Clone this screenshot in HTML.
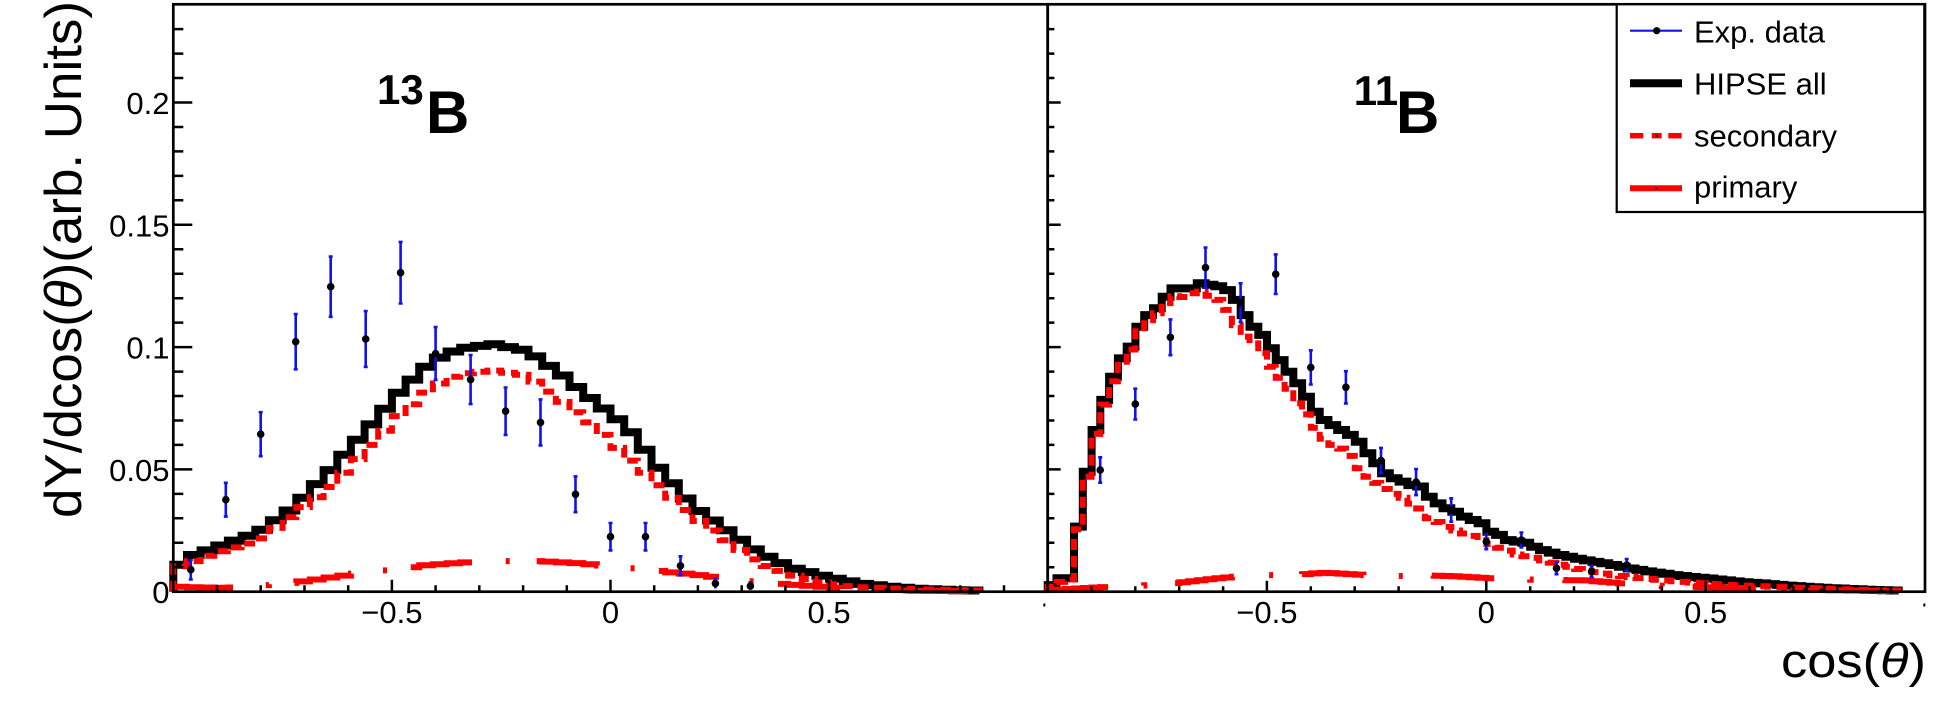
<!DOCTYPE html>
<html><head><meta charset="utf-8"><style>
html,body{margin:0;padding:0;background:#fff;}
svg{display:block;font-family:"Liberation Sans",Arial,sans-serif;}
</style></head><body>
<svg width="1936" height="706" viewBox="0 0 1936 706" xmlns="http://www.w3.org/2000/svg">
<rect x="0" y="0" width="1936" height="706" fill="#fff"/>

<!-- ===== LEFT PANEL HISTOGRAMS ===== -->
<path fill="none" stroke="#000" stroke-width="8" stroke-linejoin="miter" d="M173.3,591.7 V564.8 H187.0 V555.0 H200.6 V550.4 H214.3 V545.5 H227.9 V540.6 H241.6 V535.7 H255.3 V529.8 H268.9 V520.3 H282.6 V510.5 H296.3 V497.8 H309.9 V484.1 H323.6 V470.1 H337.3 V454.7 H350.9 V439.8 H364.6 V424.4 H378.2 V408.7 H391.9 V392.8 H405.6 V379.6 H419.2 V366.7 H432.9 V357.6 H446.6 V351.5 H460.2 V347.8 H473.9 V345.9 H487.5 V344.2 H501.2 V347.1 H514.9 V349.8 H528.5 V356.4 H542.2 V365.9 H555.9 V375.5 H569.5 V387.0 H583.2 V398.0 H596.8 V408.5 H610.5 V419.3 H624.2 V432.2 H637.8 V449.8 H651.5 V467.7 H665.2 V483.3 H678.8 V498.5 H692.5 V511.0 H706.1 V520.5 H719.8 V530.3 H733.5 V539.8 H747.1 V549.4 H760.8 V556.7 H774.5 V563.1 H788.1 V568.7 H801.8 V572.1 H815.4 V575.8 H829.1 V578.7 H842.8 V581.4 H856.4 V583.9 H870.1 V585.3 H883.8 V586.8 H897.4 V587.8 H911.1 V588.8 H924.7 V589.3 H938.4 V589.7 H952.1 V590.2 H965.7 V590.5 H979.4 V591.7"/>
<path fill="none" stroke="#ff0000" stroke-width="6" stroke-dasharray="11 6" d="M173.3,591.7 V566.3 H187.0 V561.1 H200.6 V555.7 H214.3 V551.3 H227.9 V547.4 H241.6 V543.5 H255.3 V538.4 H268.9 V527.9 H282.6 V517.1 H296.3 V507.1 H309.9 V497.3 H323.6 V487.0 H337.3 V472.8 H350.9 V459.1 H364.6 V444.9 H378.2 V430.7 H391.9 V416.1 H405.6 V404.3 H419.2 V392.6 H432.9 V383.5 H446.6 V376.7 H460.2 V373.3 H473.9 V371.8 H487.5 V370.6 H501.2 V372.8 H514.9 V374.7 H528.5 V381.6 H542.2 V391.6 H555.9 V401.9 H569.5 V412.2 H583.2 V422.4 H596.8 V434.9 H610.5 V447.9 H624.2 V460.6 H637.8 V472.8 H651.5 V485.3 H665.2 V497.8 H678.8 V510.0 H692.5 V521.0 H706.1 V530.5 H719.8 V540.3 H733.5 V549.9 H747.1 V559.4 H760.8 V566.0 H774.5 V570.9 H788.1 V575.6 H801.8 V579.0 H815.4 V582.4 H829.1 V584.4 H842.8 V586.1 H856.4 V587.3 H870.1 V587.8 H883.8 V588.5 H897.4 V588.8 H911.1 V589.3 H924.7 V589.5 H938.4 V589.7 H952.1 V590.2 H965.7 V590.5 H979.4 V591.7"/>
<path fill="none" stroke="#ff0000" stroke-width="6" stroke-dasharray="66 35 4 27" d="M173.3,591.7 V586.8 H187.0 V587.3 H200.6 V587.5 H214.3 V587.8 H227.9 V587.5 H241.6 V586.3 H255.3 V585.1 H268.9 V584.1 H282.6 V582.9 H296.3 V581.4 H309.9 V579.5 H323.6 V577.5 H337.3 V575.6 H350.9 V573.6 H364.6 V571.9 H378.2 V570.4 H391.9 V568.5 H405.6 V567.2 H419.2 V565.3 H432.9 V564.3 H446.6 V563.3 H460.2 V562.4 H473.9 V561.9 H487.5 V561.4 H501.2 V561.1 H514.9 V561.1 H528.5 V561.1 H542.2 V561.6 H555.9 V562.4 H569.5 V563.1 H583.2 V564.3 H596.8 V565.5 H610.5 V566.8 H624.2 V568.2 H637.8 V569.7 H651.5 V570.9 H665.2 V572.4 H678.8 V573.6 H692.5 V575.1 H706.1 V576.8 H719.8 V578.2 H733.5 V579.7 H747.1 V581.2 H760.8 V582.6 H774.5 V583.9 H788.1 V584.9 H801.8 V585.8 H815.4 V586.8 H829.1 V587.8 H842.8 V588.5 H856.4 V589.3 H870.1 V589.7 H883.8 V590.0 H897.4 V590.5 H911.1 V590.7 H924.7 V590.9 H938.4 V590.9 H952.1 V591.2 H965.7 V591.2 H979.4"/>

<!-- ===== RIGHT PANEL HISTOGRAMS ===== -->
<path fill="none" stroke="#000" stroke-width="8" d="M1047.7,591.7 V585.1 H1056.5 V578.2 H1065.2 V578.2 H1074.0 V526.6 H1082.8 V471.8 H1091.6 V430.0 H1100.3 V399.9 H1109.1 V376.7 H1117.9 V358.4 H1126.7 V346.6 H1135.4 V326.8 H1144.2 V315.1 H1153.0 V308.2 H1161.7 V296.7 H1170.5 V288.4 H1179.3 V288.4 H1188.1 V288.4 H1196.8 V283.3 H1205.6 V284.7 H1214.4 V286.2 H1223.2 V290.1 H1231.9 V299.9 H1240.7 V315.1 H1249.5 V326.8 H1258.3 V334.9 H1267.0 V348.3 H1275.8 V360.1 H1284.6 V371.8 H1293.3 V383.3 H1302.1 V396.8 H1310.9 V411.7 H1319.7 V420.0 H1328.4 V425.1 H1337.2 V430.0 H1346.0 V434.9 H1354.8 V441.8 H1363.5 V453.3 H1372.3 V463.3 H1381.1 V473.3 H1389.8 V478.2 H1398.6 V481.6 H1407.4 V485.1 H1416.2 V486.5 H1424.9 V496.8 H1433.7 V503.4 H1442.5 V508.3 H1451.3 V511.7 H1460.0 V516.6 H1468.8 V520.0 H1477.6 V523.2 H1486.4 V531.8 H1495.1 V534.9 H1503.9 V540.1 H1512.7 V541.6 H1521.4 V542.8 H1530.2 V546.7 H1539.0 V550.1 H1547.8 V552.6 H1556.5 V555.0 H1565.3 V556.7 H1574.1 V558.7 H1582.9 V560.4 H1591.6 V561.9 H1600.4 V563.3 H1609.2 V565.0 H1617.9 V566.8 H1626.7 V568.5 H1635.5 V569.9 H1644.3 V571.4 H1653.0 V572.6 H1661.8 V573.8 H1670.6 V575.1 H1679.4 V576.0 H1688.1 V577.0 H1696.9 V577.8 H1705.7 V578.5 H1714.4 V579.5 H1723.2 V580.4 H1732.0 V581.4 H1740.8 V582.2 H1749.5 V582.9 H1758.3 V583.4 H1767.1 V584.1 H1775.9 V584.9 H1784.6 V585.6 H1793.4 V586.1 H1802.2 V586.8 H1810.9 V587.3 H1819.7 V587.8 H1828.5 V588.3 H1837.3 V588.5 H1846.0 V589.0 H1854.8 V589.3 H1863.6 V589.7 H1872.4 V590.0 H1881.1 V590.2 H1889.9 V590.5 H1898.7 V591.7"/>
<path fill="none" stroke="#ff0000" stroke-width="6" stroke-dasharray="11 6" d="M1047.7,591.7 V586.8 H1056.5 V581.9 H1065.2 V579.5 H1074.0 V529.3 H1082.8 V476.7 H1091.6 V433.9 H1100.3 V404.6 H1109.1 V381.3 H1117.9 V361.8 H1126.7 V349.5 H1135.4 V331.2 H1144.2 V320.2 H1153.0 V313.3 H1161.7 V303.1 H1170.5 V296.2 H1179.3 V297.0 H1188.1 V293.3 H1196.8 V291.6 H1205.6 V295.7 H1214.4 V299.9 H1223.2 V309.9 H1231.9 V325.1 H1240.7 V336.6 H1249.5 V343.4 H1258.3 V353.2 H1267.0 V366.7 H1275.8 V377.7 H1284.6 V388.7 H1293.3 V403.4 H1302.1 V414.4 H1310.9 V427.8 H1319.7 V438.8 H1328.4 V444.9 H1337.2 V448.6 H1346.0 V455.9 H1354.8 V468.2 H1363.5 V476.7 H1372.3 V482.9 H1381.1 V489.0 H1389.8 V493.9 H1398.6 V497.8 H1407.4 V503.6 H1416.2 V508.5 H1424.9 V518.3 H1433.7 V522.0 H1442.5 V526.9 H1451.3 V530.5 H1460.0 V533.5 H1468.8 V535.9 H1477.6 V540.3 H1486.4 V544.0 H1495.1 V547.7 H1503.9 V550.6 H1512.7 V554.5 H1521.4 V556.2 H1530.2 V557.9 H1539.0 V560.4 H1547.8 V562.6 H1556.5 V564.8 H1565.3 V566.8 H1574.1 V569.0 H1582.9 V570.7 H1591.6 V572.1 H1600.4 V573.6 H1609.2 V575.1 H1617.9 V576.0 H1626.7 V577.0 H1635.5 V578.0 H1644.3 V579.0 H1653.0 V579.7 H1661.8 V580.4 H1670.6 V581.2 H1679.4 V581.9 H1688.1 V582.6 H1696.9 V583.1 H1705.7 V583.9 H1714.4 V584.4 H1723.2 V584.9 H1732.0 V585.3 H1740.8 V585.6 H1749.5 V586.1 H1758.3 V586.3 H1767.1 V586.8 H1775.9 V587.1 H1784.6 V587.5 H1793.4 V587.8 H1802.2 V588.0 H1810.9 V588.3 H1819.7 V588.5 H1828.5 V589.0 H1837.3 V589.3 H1846.0 V589.5 H1854.8 V589.7 H1863.6 V590.0 H1872.4 V590.2 H1881.1 V590.2 H1889.9 V590.5 H1898.7 V591.7"/>
<path fill="none" stroke="#ff0000" stroke-width="6" stroke-dasharray="65 37 4 30" d="M1047.7,591.7 V590.0 H1056.5 V589.5 H1065.2 V589.0 H1074.0 V588.5 H1082.8 V588.0 H1091.6 V587.5 H1100.3 V587.1 H1109.1 V586.6 H1117.9 V586.3 H1126.7 V585.8 H1135.4 V585.6 H1144.2 V585.3 H1153.0 V584.9 H1161.7 V584.1 H1170.5 V583.1 H1179.3 V582.2 H1188.1 V581.2 H1196.8 V580.2 H1205.6 V579.2 H1214.4 V578.2 H1223.2 V577.5 H1231.9 V576.8 H1240.7 V576.3 H1249.5 V575.8 H1258.3 V575.3 H1267.0 V575.1 H1275.8 V574.8 H1284.6 V574.6 H1293.3 V574.3 H1302.1 V574.1 H1310.9 V573.4 H1319.7 V572.9 H1328.4 V573.1 H1337.2 V573.6 H1346.0 V574.1 H1354.8 V574.6 H1363.5 V575.1 H1372.3 V575.8 H1381.1 V576.5 H1389.8 V576.5 H1398.6 V576.0 H1407.4 V575.6 H1416.2 V575.3 H1424.9 V575.6 H1433.7 V575.8 H1442.5 V576.0 H1451.3 V576.3 H1460.0 V576.8 H1468.8 V577.3 H1477.6 V577.8 H1486.4 V578.2 H1495.1 V578.5 H1503.9 V579.0 H1512.7 V579.2 H1521.4 V579.5 H1530.2 V579.7 H1539.0 V580.0 H1547.8 V580.0 H1556.5 V580.0 H1565.3 V580.2 H1574.1 V580.2 H1582.9 V580.4 H1591.6 V581.2 H1600.4 V581.9 H1609.2 V582.6 H1617.9 V583.4 H1626.7 V584.1 H1635.5 V584.6 H1644.3 V585.1 H1653.0 V585.6 H1661.8 V586.1 H1670.6 V586.3 H1679.4 V586.6 H1688.1 V586.8 H1696.9 V587.1 H1705.7 V587.3 H1714.4 V587.5 H1723.2 V587.8 H1732.0 V588.0 H1740.8 V588.3 H1749.5 V588.5 H1758.3 V588.8 H1767.1 V589.0 H1775.9 V589.3 H1784.6 V589.5 H1793.4 V589.5 H1802.2 V589.7 H1810.9 V590.0 H1819.7 V590.0 H1828.5 V590.2 H1837.3 V590.2 H1846.0 V590.5 H1854.8 V590.5 H1863.6 V590.7 H1872.4 V590.7 H1881.1 V591.0 H1889.9 V591.0 H1898.7"/>

<!-- ===== DATA POINTS LEFT ===== -->
<g stroke="#1010f0" stroke-width="2.6" fill="none">
<path d="M190.8,559.9V579.5M188.8,559.9H192.8M188.8,579.5H192.8"/>
<path d="M225.8,482.8V516.6M223.8,482.8H227.8M223.8,516.6H227.8"/>
<path d="M260.7,412.2V456.2M258.7,412.2H262.7M258.7,456.2H262.7"/>
<path d="M295.7,314.1V369.3M293.7,314.1H297.7M293.7,369.3H297.7"/>
<path d="M330.7,256.6V316.8M328.7,256.6H332.7M328.7,316.8H332.7"/>
<path d="M365.7,311.1V366.9M363.7,311.1H367.7M363.7,366.9H367.7"/>
<path d="M400.6,241.9V303.5M398.6,241.9H402.6M398.6,303.5H402.6"/>
<path d="M435.6,327.1V379.9M433.6,327.1H437.6M433.6,379.9H437.6"/>
<path d="M470.6,355.1V404.1M468.6,355.1H472.6M468.6,404.1H472.6"/>
<path d="M505.6,387.5V434.9M503.6,387.5H507.6M503.6,434.9H507.6"/>
<path d="M540.5,399.4V445.4M538.5,399.4H542.5M538.5,445.4H542.5"/>
<path d="M575.5,476.4V512.2M573.5,476.4H577.5M573.5,512.2H577.5"/>
<path d="M610.5,523.0V550.4M608.5,523.0H612.5M608.5,550.4H612.5"/>
<path d="M645.5,523.0V550.4M643.5,523.0H647.5M643.5,550.4H647.5"/>
<path d="M680.5,556.3V575.3M678.5,556.3H682.5M678.5,575.3H682.5"/>
<path d="M715.4,578.4V588.4M713.4,578.4H717.4"/>
<path d="M750.4,582.4V589.8M748.4,582.4H752.4"/>
</g>
<g fill="#000">
<circle cx="190.8" cy="569.7" r="3.8"/><circle cx="225.8" cy="499.7" r="3.8"/><circle cx="260.7" cy="434.2" r="3.8"/><circle cx="295.7" cy="341.7" r="3.8"/><circle cx="330.7" cy="286.7" r="3.8"/><circle cx="365.7" cy="339.0" r="3.8"/><circle cx="400.6" cy="272.7" r="3.8"/><circle cx="435.6" cy="353.5" r="3.8"/><circle cx="470.6" cy="379.6" r="3.8"/><circle cx="505.6" cy="411.2" r="3.8"/><circle cx="540.5" cy="422.4" r="3.8"/><circle cx="575.5" cy="494.3" r="3.8"/><circle cx="610.5" cy="536.7" r="3.8"/><circle cx="645.5" cy="536.7" r="3.8"/><circle cx="680.5" cy="565.8" r="3.8"/><circle cx="715.4" cy="583.4" r="3.8"/><circle cx="750.4" cy="586.1" r="3.8"/>
</g>

<!-- ===== DATA POINTS RIGHT ===== -->
<g stroke="#1010f0" stroke-width="2.6" fill="none">
<path d="M1100.2,457.3V482.7M1098.2,457.3H1102.2M1098.2,482.7H1102.2"/>
<path d="M1135.3,388.7V419.5M1133.3,388.7H1137.3M1133.3,419.5H1137.3"/>
<path d="M1170.4,319.4V355.2M1168.4,319.4H1172.4M1168.4,355.2H1172.4"/>
<path d="M1205.5,247.5V287.7M1203.5,247.5H1207.5M1203.5,287.7H1207.5"/>
<path d="M1240.6,283.3V321.9M1238.6,283.3H1242.6M1238.6,321.9H1242.6"/>
<path d="M1275.7,254.4V294.0M1273.7,254.4H1277.7M1273.7,294.0H1277.7"/>
<path d="M1310.8,350.3V384.5M1308.8,350.3H1312.8M1308.8,384.5H1312.8"/>
<path d="M1345.9,371.2V403.4M1343.9,371.2H1347.9M1343.9,403.4H1347.9"/>
<path d="M1381.0,447.9V473.3M1379.0,447.9H1383.0M1379.0,473.3H1383.0"/>
<path d="M1416.1,469.1V495.1M1414.1,469.1H1418.1M1414.1,495.1H1418.1"/>
<path d="M1451.2,498.3V521.7M1449.2,498.3H1453.2M1449.2,521.7H1453.2"/>
<path d="M1486.3,534.2V549.2M1484.3,534.2H1488.3M1484.3,549.2H1488.3"/>
<path d="M1521.4,532.5V547.5M1519.4,532.5H1523.4M1519.4,547.5H1523.4"/>
<path d="M1556.5,562.2V574.2M1554.5,562.2H1558.5M1554.5,574.2H1558.5"/>
<path d="M1591.6,566.1V577.1M1589.6,566.1H1593.6M1589.6,577.1H1593.6"/>
<path d="M1626.7,559.0V571.0M1624.7,559.0H1628.7M1624.7,571.0H1628.7"/>
</g>
<g fill="#000">
<circle cx="1100.2" cy="470.0" r="3.8"/><circle cx="1135.3" cy="404.1" r="3.8"/><circle cx="1170.4" cy="337.3" r="3.8"/><circle cx="1205.5" cy="267.6" r="3.8"/><circle cx="1240.6" cy="302.6" r="3.8"/><circle cx="1275.7" cy="274.2" r="3.8"/><circle cx="1310.8" cy="367.4" r="3.8"/><circle cx="1345.9" cy="387.3" r="3.8"/><circle cx="1381.0" cy="460.6" r="3.8"/><circle cx="1416.1" cy="482.1" r="3.8"/><circle cx="1451.2" cy="510.0" r="3.8"/><circle cx="1486.3" cy="541.7" r="3.8"/><circle cx="1521.4" cy="540.0" r="3.8"/><circle cx="1556.5" cy="568.2" r="3.8"/><circle cx="1591.6" cy="571.6" r="3.8"/><circle cx="1626.7" cy="565.0" r="3.8"/>
</g>

<!-- ===== FRAMES ===== -->
<g fill="none" stroke="#000" stroke-width="2.7">
<rect x="173.3" y="4.3" width="874.4" height="587.4"/>
<rect x="1047.7" y="4.3" width="877.3" height="587.4"/>
</g>

<!-- ===== TICKS ===== -->
<g stroke="#000" stroke-width="2.5" fill="none">
<path d="M173.3,469.4H192.3M173.3,347.1H192.3M173.3,224.8H192.3M173.3,102.5H192.3"/>
<path d="M173.3,567.2H183.3M173.3,542.8H183.3M173.3,518.3H183.3M173.3,493.9H183.3M173.3,444.9H183.3M173.3,420.5H183.3M173.3,396.0H183.3M173.3,371.6H183.3M173.3,322.6H183.3M173.3,298.2H183.3M173.3,273.7H183.3M173.3,249.3H183.3M173.3,200.3H183.3M173.3,175.9H183.3M173.3,151.4H183.3M173.3,127.0H183.3M173.3,78.0H183.3M173.3,53.6H183.3M173.3,29.1H183.3"/>
<path d="M1047.7,469.4H1060.7M1047.7,347.1H1060.7M1047.7,224.8H1060.7M1047.7,102.5H1060.7"/>
<path d="M1047.7,567.2H1054.4M1047.7,542.8H1054.4M1047.7,518.3H1054.4M1047.7,493.9H1054.4M1047.7,444.9H1054.4M1047.7,420.5H1054.4M1047.7,396.0H1054.4M1047.7,371.6H1054.4M1047.7,322.6H1054.4M1047.7,298.2H1054.4M1047.7,273.7H1054.4M1047.7,249.3H1054.4M1047.7,200.3H1054.4M1047.7,175.9H1054.4M1047.7,151.4H1054.4M1047.7,127.0H1054.4M1047.7,78.0H1054.4M1047.7,53.6H1054.4M1047.7,29.1H1054.4"/>
<path d="M391.9,591.7V579.7M610.5,591.7V579.7M829.1,591.7V579.7"/>
<path d="M217.0,591.7V585.2M260.7,591.7V585.2M304.5,591.7V585.2M348.2,591.7V585.2M435.6,591.7V585.2M479.3,591.7V585.2M523.1,591.7V585.2M566.8,591.7V585.2M654.2,591.7V585.2M697.9,591.7V585.2M741.7,591.7V585.2M785.4,591.7V585.2M872.8,591.7V585.2M916.5,591.7V585.2M960.3,591.7V585.2M1004.0,591.7V585.2"/>
<path d="M1266.9,591.7V580.7M1486.3,591.7V580.7M1705.7,591.7V580.7"/>
<path d="M1091.5,591.7V586.2M1135.3,591.7V586.2M1179.2,591.7V586.2M1223.1,591.7V586.2M1310.8,591.7V586.2M1354.7,591.7V586.2M1398.6,591.7V586.2M1442.4,591.7V586.2M1530.2,591.7V586.2M1574.0,591.7V586.2M1617.9,591.7V586.2M1661.8,591.7V586.2M1749.6,591.7V586.2M1793.4,591.7V586.2M1837.3,591.7V586.2M1881.1,591.7V586.2"/>
</g>
<rect x="1043.3" y="603.5" width="2" height="3" fill="#000"/>
<rect x="1923.3" y="603.5" width="2" height="3" fill="#000"/>

<!-- ===== TICK LABELS ===== -->
<g font-size="31" fill="#000" text-anchor="end">
<text x="169.5" y="603.2">0</text>
<text x="169.5" y="480.9">0.05</text>
<text x="169.5" y="358.6">0.1</text>
<text x="169.5" y="236.3">0.15</text>
<text x="169.5" y="114.0">0.2</text>
</g>
<g font-size="31" fill="#000" text-anchor="middle">
<text x="391.9" y="623">−0.5</text>
<text x="610.5" y="623">0</text>
<text x="829.1" y="623">0.5</text>
<text x="1266.9" y="623">−0.5</text>
<text x="1486.3" y="623">0</text>
<text x="1705.7" y="623">0.5</text>
</g>

<!-- ===== AXIS TITLES ===== -->
<text transform="translate(81,1) rotate(-90)" text-anchor="end" font-size="52" fill="#000" textLength="517" lengthAdjust="spacingAndGlyphs">dY/dcos(<tspan font-style="italic">θ</tspan>)(arb. Units)</text>
<text x="1926" y="677" text-anchor="end" font-size="47" fill="#000" textLength="145" lengthAdjust="spacingAndGlyphs">cos(<tspan font-style="italic">θ</tspan>)</text>

<!-- ===== NUCLEUS LABELS ===== -->
<g font-weight="bold" fill="#000">
<text x="377" y="104" font-size="42">13</text>
<text x="426" y="133" font-size="60">B</text>
<text x="1353.7" y="105" font-size="42">11</text>
<text x="1396" y="133" font-size="60">B</text>
</g>

<!-- ===== LEGEND ===== -->
<rect x="1616.7" y="4.3" width="307.6" height="207.7" fill="#fff" stroke="#000" stroke-width="2.2"/>
<line x1="1630" y1="30.7" x2="1682" y2="30.7" stroke="#1010f0" stroke-width="2.2"/>
<circle cx="1656.7" cy="30.7" r="3.6" fill="#000"/>
<line x1="1630" y1="83.3" x2="1682" y2="83.3" stroke="#000" stroke-width="8"/>
<g stroke="#ff0000" stroke-width="5.5">
<line x1="1630" y1="135.7" x2="1643.3" y2="135.7"/>
<line x1="1651.7" y1="135.7" x2="1661.7" y2="135.7"/>
<line x1="1668.3" y1="135.7" x2="1681.7" y2="135.7"/>
<line x1="1630" y1="188.3" x2="1682" y2="188.3" stroke-width="6"/>
</g>
<rect x="1655.7" y="134.7" width="2" height="2" fill="#000"/>
<rect x="1655.7" y="187.3" width="2" height="2" fill="#000"/>
<g font-size="31" fill="#000">
<text x="1694" y="42.3">Exp. data</text>
<text x="1694" y="94.3">HIPSE all</text>
<text x="1694" y="146.5">secondary</text>
<text x="1694" y="197.5">primary</text>
</g>
</svg>
</body></html>
